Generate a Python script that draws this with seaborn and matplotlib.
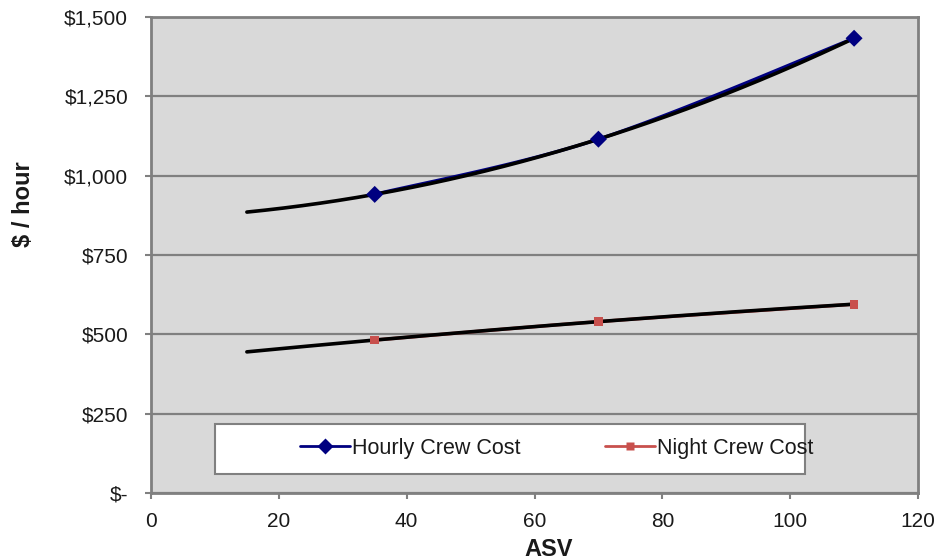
import numpy as np
import pandas as pd
import seaborn as sns
import matplotlib
matplotlib.use("Agg")
import matplotlib.pyplot as plt
from matplotlib.ticker import FuncFormatter
from matplotlib.patches import Rectangle
from matplotlib.lines import Line2D

# Crew cost per hour by aircraft size (ASV)
asv = [35, 70, 110]
hourly_cost = [941, 1115, 1433]
night_cost = [482, 540, 595]
series_names = ["Hourly Crew Cost", "Night Crew Cost"]
trend_start = 15          # trendlines are extended back to this ASV
x_ticks = [0, 20, 40, 60, 80, 100, 120]
y_ticks = [0, 250, 500, 750, 1000, 1250, 1500]


def smooth_path(x, y, n=60):
    """Bezier-smoothed line through the points (spreadsheet 'smoothed line')."""
    p = np.column_stack([x, y]).astype(float)
    out = []
    for i in range(len(p) - 1):
        prev = p[i - 1] if i > 0 else p[i]
        nxt = p[i + 2] if i + 2 < len(p) else p[i + 1]
        c1 = p[i] + (p[i + 1] - prev) / 6
        c2 = p[i + 1] - (nxt - p[i]) / 6
        t = np.linspace(0, 1, n)[:, None]
        seg = ((1 - t) ** 3 * p[i] + 3 * (1 - t) ** 2 * t * c1
               + 3 * (1 - t) * t ** 2 * c2 + t ** 3 * p[i + 1])
        out.append(seg if i == 0 else seg[1:])
    out = np.vstack(out)
    return out[:, 0], out[:, 1]


sns.set_theme(style="white")
plt.rcParams["font.family"] = ["Liberation Sans", "DejaVu Sans"]

W, H = 939, 560
fig = plt.figure(figsize=(W / 100, H / 100), dpi=100)
ax = fig.add_axes([151 / W, 1 - 493 / H, 767 / W, 476 / H])
ax.set_facecolor("#D9D9D9")

df = pd.DataFrame({
    "ASV": asv * 2,
    "cost": hourly_cost + night_cost,
    "series": [series_names[0]] * len(asv) + [series_names[1]] * len(asv),
})
colors = {series_names[0]: "#000080", series_names[1]: "#C8504D"}
markers = {series_names[0]: "D", series_names[1]: "s"}
sizes = {series_names[0]: 75, series_names[1]: 40}

# smoothed series lines
for name in series_names:
    sub = df[df["series"] == name]
    sx, sy = smooth_path(sub["ASV"].to_numpy(), sub["cost"].to_numpy())
    sns.lineplot(x=sx, y=sy, sort=False, color=colors[name], lw=2.4,
                 ax=ax, zorder=2)

# second-order polynomial trendlines
xs = np.linspace(trend_start, max(asv), 200)
for vals in (hourly_cost, night_cost):
    coef = np.polyfit(asv, vals, 2)
    sns.lineplot(x=xs, y=np.polyval(coef, xs), color="black", lw=2.6,
                 ax=ax, zorder=3)

# markers on top
for name in series_names:
    sub = df[df["series"] == name]
    sns.scatterplot(data=sub, x="ASV", y="cost", color=colors[name],
                    marker=markers[name], s=sizes[name], edgecolor="none",
                    legend=False, ax=ax, zorder=4)

ax.set_xlim(x_ticks[0], x_ticks[-1])
ax.set_ylim(y_ticks[0], y_ticks[-1])
ax.set_xticks(x_ticks)
ax.set_yticks(y_ticks)
ax.yaxis.set_major_formatter(
    FuncFormatter(lambda v, _: "$-" if v == 0 else f"${v:,.0f}"))

ax.yaxis.grid(True, color="#808080", lw=1.6)
ax.xaxis.grid(False)
ax.set_axisbelow(True)

for sp in ax.spines.values():
    sp.set_visible(True)
    sp.set_color("#808080")
    sp.set_linewidth(2)

ax.tick_params(axis="both", which="major", direction="out", bottom=True,
               left=True, length=4.5, width=1.5, color="#808080",
               labelsize=15, labelcolor="#1a1a1a")
ax.tick_params(axis="y", pad=12)
ax.tick_params(axis="x", pad=9)

ax.set_xlabel("ASV", fontsize=17, fontweight="bold", color="#1a1a1a")
ax.set_ylabel("$ / hour", fontsize=17, fontweight="bold", color="#1a1a1a")
ax.xaxis.set_label_coords(0.518, -0.094)
ax.yaxis.set_label_coords(-0.151, 0.607)

# legend box
ax.add_patch(Rectangle((0.083, 0.040), 0.770, 0.105, transform=ax.transAxes,
                       facecolor="white", edgecolor="#808080", lw=1.5,
                       zorder=5))
handles = [
    Line2D([0], [0], color=colors[series_names[0]], lw=2, marker="D",
           markersize=8, markeredgecolor="none"),
    Line2D([0], [0], color=colors[series_names[1]], lw=2, marker="s",
           markersize=6, markeredgecolor="none"),
]
leg = ax.legend(handles, series_names, loc="center left",
                bbox_to_anchor=(0.1943, 0.0945), ncol=2, frameon=False,
                fontsize=15.5, handlelength=2.33, handletextpad=0.1,
                columnspacing=3.9, borderpad=0, borderaxespad=0)
leg.set_zorder(6)
for t in leg.get_texts():
    t.set_color("#1a1a1a")

fig.savefig("out.png", dpi=100)
